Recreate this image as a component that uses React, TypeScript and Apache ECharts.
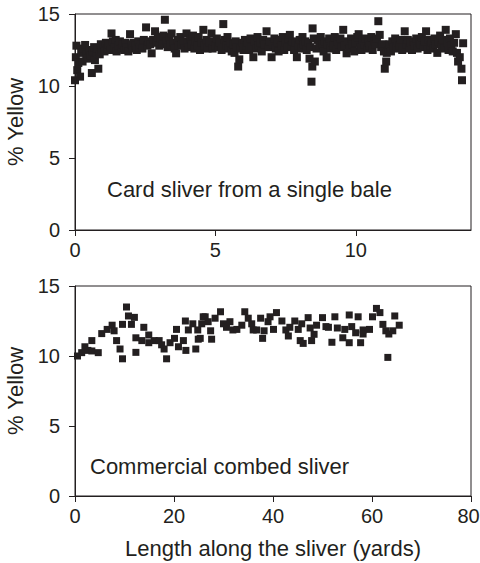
import React, { useEffect, useRef } from "react";
import * as echarts from "echarts";

const topPoints: number[][] = [
  [0.00,10.4],[0.03,12.0],[0.05,12.8],[0.08,11.1],[0.12,11.6],[0.18,10.65],[0.22,12.3],[0.27,11.7],[0.30,12.6],[0.36,12.85],[0.40,12.2],[0.45,11.9],[0.50,12.5],[0.55,12.1],[0.60,10.9],[0.63,12.4],[0.68,12.7],[0.71,11.8],[0.76,12.3],[0.80,12.6],[0.83,11.2],[0.88,12.2],[0.92,12.9],[0.96,12.5],[1.00,12.85],
  [1.05,12.4],[1.10,13.0],[1.15,12.6],[1.20,12.9],[1.25,12.5],[1.30,13.65],[1.35,13.1],[1.40,12.7],[1.45,13.2],[1.48,12.4],[1.55,12.8],[1.60,13.1],[1.65,12.6],[1.70,12.9],[1.75,12.5],[1.80,13.0],[1.85,12.7],[1.90,12.4],[1.96,13.6],[2.00,12.9],
  [2.05,12.6],[2.10,13.0],[2.15,12.8],[2.20,12.5],[2.25,13.1],[2.30,12.7],[2.35,12.9],[2.40,12.6],[2.45,13.2],[2.53,14.07],[2.58,12.8],[2.62,13.1],[2.68,12.9],[2.73,12.27],[2.78,13.2],[2.85,13.8],[2.90,13.0],[2.95,13.4],[3.00,12.8],
  [3.05,13.3],[3.10,12.9],[3.15,13.5],[3.20,14.6],[3.25,13.1],[3.30,12.7],[3.35,13.4],[3.40,12.9],[3.44,13.65],[3.50,13.0],[3.55,12.6],[3.60,12.27],[3.65,13.2],[3.70,12.8],[3.75,13.4],[3.80,12.9],[3.85,13.1],[3.90,12.6],[3.97,13.65],[4.00,13.0],
  [4.05,12.7],[4.10,13.3],[4.15,12.9],[4.20,13.5],[4.25,12.6],[4.30,13.1],[4.35,12.8],[4.40,13.4],[4.45,12.5],[4.50,13.0],[4.57,13.9],[4.62,12.8],[4.68,13.2],[4.72,12.6],[4.78,13.0],[4.86,13.65],[4.90,12.6],[4.95,13.1],[5.00,12.8],
  [5.05,13.3],[5.10,12.7],[5.15,13.0],[5.22,12.5],[5.28,14.3],[5.32,13.2],[5.38,12.8],[5.43,13.4],[5.48,12.6],[5.53,13.0],[5.58,12.4],[5.63,12.9],[5.68,12.3],[5.72,13.1],[5.76,12.7],[5.81,11.35],[5.85,11.85],[5.90,12.6],[5.95,13.0],[6.00,12.5],
  [6.05,13.2],[6.10,12.8],[6.15,13.0],[6.20,12.5],[6.25,13.3],[6.30,12.7],[6.35,12.0],[6.40,13.1],[6.45,12.6],[6.50,13.4],[6.55,12.8],[6.60,13.0],[6.65,12.4],[6.70,13.2],[6.75,12.9],[6.82,13.8],[6.88,12.7],[6.93,13.1],[7.00,12.0],
  [7.05,12.9],[7.10,13.3],[7.15,12.6],[7.20,13.0],[7.25,12.4],[7.30,13.2],[7.35,12.8],[7.40,13.4],[7.45,12.5],[7.50,13.0],[7.55,12.7],[7.60,13.3],[7.65,13.55],[7.70,12.8],[7.75,13.1],[7.80,12.5],[7.85,13.0],[7.90,12.0],[7.95,12.8],[8.00,13.2],
  [8.05,12.6],[8.10,13.4],[8.15,12.9],[8.20,13.1],[8.25,12.5],[8.30,13.0],[8.35,11.9],[8.38,12.7],[8.42,10.3],[8.45,11.35],[8.46,14.0],[8.50,13.3],[8.54,11.7],[8.60,12.6],[8.65,13.2],[8.70,12.8],[8.75,13.4],[8.80,12.9],[8.85,12.4],[8.90,13.1],[8.96,12.0],[9.00,12.9],
  [9.05,13.3],[9.10,12.6],[9.15,13.0],[9.20,12.8],[9.25,13.4],[9.30,12.5],[9.35,13.1],[9.40,12.9],[9.45,13.3],[9.50,12.7],[9.55,13.9],[9.60,12.8],[9.67,12.27],[9.72,13.1],[9.78,12.6],[9.83,13.3],[9.88,12.9],[9.94,12.4],[10.00,13.0],
  [10.05,13.4],[10.10,13.6],[10.15,12.7],[10.20,12.5],[10.25,13.2],[10.30,12.9],[10.35,13.3],[10.40,12.6],[10.45,13.0],[10.50,12.8],[10.55,13.4],[10.60,12.5],[10.65,13.1],[10.70,12.9],[10.75,13.3],[10.80,14.5],[10.85,13.55],[10.90,12.7],[10.95,12.9],[11.00,12.4],
  [11.03,11.2],[11.08,11.7],[11.10,12.3],[11.15,12.5],[11.20,12.9],[11.25,12.4],[11.30,13.1],[11.35,12.7],[11.40,13.3],[11.45,12.6],[11.50,13.0],[11.55,12.8],[11.60,13.2],[11.65,12.5],[11.74,13.8],[11.80,12.9],[11.85,13.2],[11.90,12.6],[11.95,13.0],[12.00,12.5],
  [12.05,13.1],[12.10,12.8],[12.15,13.3],[12.20,12.6],[12.25,13.0],[12.30,12.9],[12.35,13.4],[12.40,12.7],[12.45,13.1],[12.50,13.8],[12.55,12.5],[12.60,13.2],[12.65,12.8],[12.70,13.0],[12.75,12.6],[12.80,13.3],[12.85,12.9],[12.90,12.3],[12.95,13.1],[13.00,13.5],
  [13.05,12.8],[13.10,13.2],[13.15,12.6],[13.20,13.9],[13.25,13.0],[13.30,12.5],[13.35,13.3],[13.40,12.8],[13.45,12.4],[13.50,13.0],[13.56,13.6],[13.60,12.3],[13.64,11.7],[13.70,12.0],[13.76,11.2],[13.78,10.4],[13.82,12.97]
];

const bottomPoints: number[][] = [
  [0.5,10.0],[1.35,10.24],[2.0,10.66],[2.6,10.4],[3.4,11.1],[3.4,10.36],[4.7,10.24],[5.4,11.6],[6.5,11.9],[7.5,12.2],[7.9,11.8],[8.4,11.1],[9.1,10.5],[9.6,9.8],[9.6,12.26],
  [10.4,13.5],[10.8,12.86],[12.0,12.76],[11.4,12.26],[12.3,11.3],[12.3,10.26],[13.5,11.1],[13.9,12.05],[14.9,11.5],[14.9,10.95],[16.0,11.1],[17.0,11.1],[17.5,10.8],[18.0,10.5],[18.5,9.8],
  [19.2,10.95],[20.1,11.26],[20.5,11.9],[20.9,10.66],[21.9,11.1],[22.4,10.4],[22.3,12.5],[22.9,11.86],[23.8,12.3],[24.4,10.5],[24.9,11.2],[24.8,11.86],[25.6,12.3],[25.9,12.8],
  [26.3,12.8],[25.3,11.26],[27.4,11.8],[27.6,11.2],[26.9,12.45],[28.3,12.7],[29.4,13.16],[30.0,12.3],[30.6,12.05],[31.3,12.45],[31.9,11.86],[32.7,11.9],[33.7,12.2],[34.3,13.16],
  [35.0,12.7],[35.7,12.3],[36.0,11.86],[36.7,11.86],[37.5,12.7],[37.9,11.26],[38.2,11.8],[39.0,12.45],[39.4,12.8],[40.1,11.9],[40.7,13.1],[41.8,12.5],[42.6,11.86],[43.1,11.43],
  [43.4,12.05],[44.4,12.5],[45.1,11.9],[45.5,11.1],[45.8,12.3],[46.1,10.9],[47.1,12.74],[47.5,12.0],[47.8,11.1],[48.3,11.55],[48.8,12.2],[50.0,12.74],[50.7,12.1],[51.2,12.05],
  [51.9,10.98],[52.5,12.8],[53.0,12.0],[54.1,11.3],[54.5,11.9],[55.4,10.95],[55.4,12.93],[55.9,12.1],[56.7,11.66],[57.2,12.8],[57.7,10.95],[58.2,11.86],[58.2,11.57],[59.5,11.9],
  [60.1,12.8],[60.9,13.4],[61.6,13.1],[62.2,12.26],[62.8,11.8],[63.4,11.57],[64.2,11.8],[64.6,12.86],[65.5,12.2],[63.2,9.9]
];

const topXTicks = [0, 5, 10];
const bottomXTicks = [0, 20, 40, 60, 80];
const yTicks = [0, 5, 10, 15];

const FONT = "'Liberation Sans', Arial, Helvetica, sans-serif";
const INK = "#231f20";
const FS = 22;
const TFS = 20;

export default function App() {
  const ref = useRef<HTMLDivElement>(null);
  useEffect(() => {
    document.body.style.margin = "0";
    if (!ref.current) return;
    const chart = echarts.init(ref.current, undefined, { renderer: "svg" });
    const axisCommon = {
      axisLine: { show: true, lineStyle: { color: INK, width: 1 } },
      axisTick: { show: true, length: 6, lineStyle: { color: INK, width: 1 } },
      splitLine: { show: false },
      axisLabel: { color: INK, fontSize: TFS, fontFamily: FONT },
    };
    chart.setOption({
      animation: false,
      backgroundColor: "#ffffff",
      textStyle: { fontFamily: FONT, color: INK },
      grid: [
        { left: 75, right: 9, top: 14, height: 216, show: true, borderColor: INK, borderWidth: 1, backgroundColor: "transparent", containLabel: false, outerBoundsMode: "none" },
        { left: 75, right: 9, top: 286, height: 210, show: true, borderColor: INK, borderWidth: 1, backgroundColor: "transparent", containLabel: false, outerBoundsMode: "none" },
      ],
      xAxis: [
        {
          ...axisCommon,
          gridIndex: 0,
          type: "value",
          min: 0,
          max: 14.1,
          interval: 5,
          axisLabel: { ...axisCommon.axisLabel, margin: 10, showMaxLabel: false, formatter: (v: number) => (topXTicks.includes(v) ? String(v) : "") },
        },
        {
          ...axisCommon,
          gridIndex: 1,
          type: "value",
          min: 0,
          max: 80,
          interval: 20,
          axisLabel: {
            ...axisCommon.axisLabel,
            margin: 10,
            formatter: (v: number) => (v === 80 ? "{r|80}" : bottomXTicks.includes(v) ? String(v) : ""),
            rich: { r: { color: INK, fontSize: TFS, fontFamily: FONT, padding: [0, 5, 0, 0] } },
          },
          name: "Length along the sliver (yards)",
          nameLocation: "middle",
          nameGap: 41,
          nameTextStyle: { color: INK, fontSize: FS, fontFamily: FONT },
        },
      ],
      yAxis: [0, 1].map((i) => ({
        ...axisCommon,
        gridIndex: i,
        type: "value",
        min: 0,
        max: 15,
        interval: 5,
        axisLabel: { ...axisCommon.axisLabel, margin: 15, formatter: (v: number) => (yTicks.includes(v) ? String(v) : "") },
        name: "% Yellow",
        nameLocation: "middle",
        nameGap: 48,
        nameTextStyle: { color: INK, fontSize: FS, fontFamily: FONT },
      })),
      graphic: [
        { type: "text", left: 107, top: 178, style: { text: "Card sliver from a single bale", fill: INK, fontSize: FS, fontFamily: FONT } },
        { type: "text", left: 90, top: 455, style: { text: "Commercial combed sliver", fill: INK, fontSize: FS, fontFamily: FONT } },
      ],
      series: [
        {
          type: "scatter",
          xAxisIndex: 0,
          yAxisIndex: 0,
          data: topPoints,
          symbol: "rect",
          symbolSize: 8,
          itemStyle: { color: INK, opacity: 1 },
          clip: false,
        },
        {
          type: "scatter",
          xAxisIndex: 1,
          yAxisIndex: 1,
          data: bottomPoints,
          symbol: "rect",
          symbolSize: 7,
          itemStyle: { color: INK, opacity: 1 },
          clip: false,
        },
      ],
    });
    return () => chart.dispose();
  }, []);
  return <div ref={ref} style={{ width: 480, height: 563 }} />;
}
